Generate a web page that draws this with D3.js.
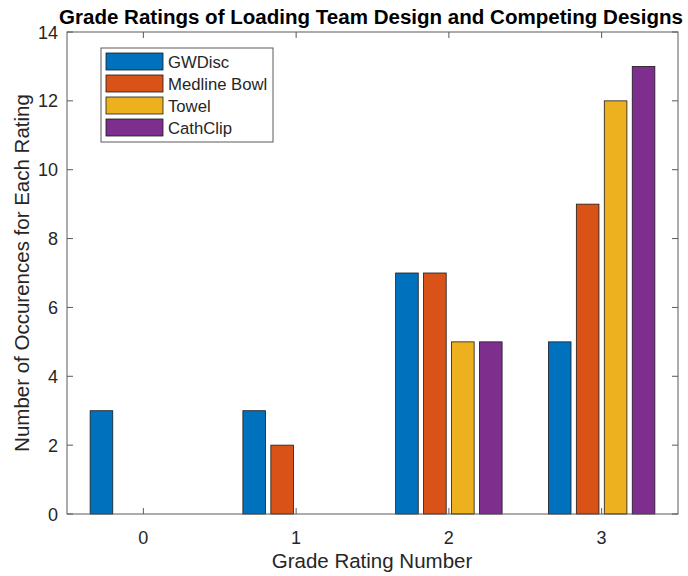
<!DOCTYPE html>
<html><head><meta charset="utf-8">
<script src="https://cdn.jsdelivr.net/npm/d3@7"></script>
<style>body{margin:0;background:#fff}svg{display:block}text{font-family:"Liberation Sans",Arial,sans-serif}</style>
</head><body><svg id="c" width="688" height="576"></svg>
<script>
const categories = [0, 1, 2, 3];
const seriesNames = ["GWDisc", "Medline Bowl", "Towel", "CathClip"];
const gwdisc = [3, 3, 7, 5];
const medline = [0, 2, 7, 9];
const towel = [0, 0, 5, 12];
const cathclip = [0, 0, 5, 13];
const yTicks = [0, 2, 4, 6, 8, 10, 12, 14];
const colors = ["#0072BD", "#D95319", "#EDB120", "#7E2F8E"];
const series = [gwdisc, medline, towel, cathclip];

const svg = d3.select("#c");
const L = 67, R = 678, T = 32, B = 514;
const x = d3.scaleLinear().domain([-0.5, 3.5]).range([L, R]);
const y = d3.scaleLinear().domain([0, 14]).range([B, T]);
const unit = x(1) - x(0);
const groupStep = 0.183, barW = 0.148;
const axisCol = "#5a5a5a", textCol = "#262626";

// bars
series.forEach((vals, si) => {
  svg.append("g").selectAll("rect").data(vals.map((v, i) => ({v, c: categories[i]})).filter(d => d.v > 0))
    .join("rect")
    .attr("x", d => x(d.c + (si - 1.5) * groupStep - barW / 2))
    .attr("width", barW * unit)
    .attr("y", d => y(d.v))
    .attr("height", d => y(0) - y(d.v))
    .attr("fill", colors[si])
    .attr("stroke", "#1a1a1a").attr("stroke-width", 0.8);
});

// box
svg.append("rect").attr("x", L).attr("y", T).attr("width", R - L).attr("height", B - T)
  .attr("fill", "none").attr("stroke", axisCol).attr("stroke-width", 1);

const tl = 6;
// x ticks
categories.forEach(c => {
  svg.append("line").attr("x1", x(c)).attr("x2", x(c)).attr("y1", B).attr("y2", B - tl).attr("stroke", axisCol);
  svg.append("line").attr("x1", x(c)).attr("x2", x(c)).attr("y1", T).attr("y2", T + tl).attr("stroke", axisCol);
  svg.append("text").attr("x", x(c)).attr("y", B + 30).attr("text-anchor", "middle")
    .attr("font-size", 18).attr("fill", textCol).text(c);
});
// y ticks
yTicks.forEach(t => {
  svg.append("line").attr("x1", L).attr("x2", L + tl).attr("y1", y(t)).attr("y2", y(t)).attr("stroke", axisCol);
  svg.append("line").attr("x1", R).attr("x2", R - tl).attr("y1", y(t)).attr("y2", y(t)).attr("stroke", axisCol);
  svg.append("text").attr("x", L - 9).attr("y", y(t) + 6.5).attr("text-anchor", "end")
    .attr("font-size", 18).attr("fill", textCol).text(t);
});

// title
svg.append("text").attr("x", 371).attr("y", 24).attr("text-anchor", "middle")
  .attr("font-size", 19.5).attr("font-weight", "bold").attr("fill", "#000")
  .attr("textLength", 624).attr("lengthAdjust", "spacingAndGlyphs")
  .text("Grade Ratings of Loading Team Design and Competing Designs");
// axis labels
svg.append("text").attr("x", 372).attr("y", 568).attr("text-anchor", "middle")
  .attr("font-size", 20.5).attr("fill", textCol).text("Grade Rating Number");
svg.append("text").attr("transform", `translate(29,${(T + B) / 2}) rotate(-90)`).attr("text-anchor", "middle")
  .attr("font-size", 20.5).attr("fill", textCol).text("Number of Occurences for Each Rating");

// legend
const lg = svg.append("g");
lg.append("rect").attr("x", 101).attr("y", 48).attr("width", 172).attr("height", 94)
  .attr("fill", "#fff").attr("stroke", axisCol).attr("stroke-width", 1);
seriesNames.forEach((n, i) => {
  lg.append("rect").attr("x", 106).attr("y", 53 + i * 22).attr("width", 57).attr("height", 17)
    .attr("fill", colors[i]).attr("stroke", "#1a1a1a").attr("stroke-width", 0.8);
  lg.append("text").attr("x", 168).attr("y", 68 + i * 22).attr("font-size", 16.7).attr("fill", textCol).text(n);
});
</script></body></html>
